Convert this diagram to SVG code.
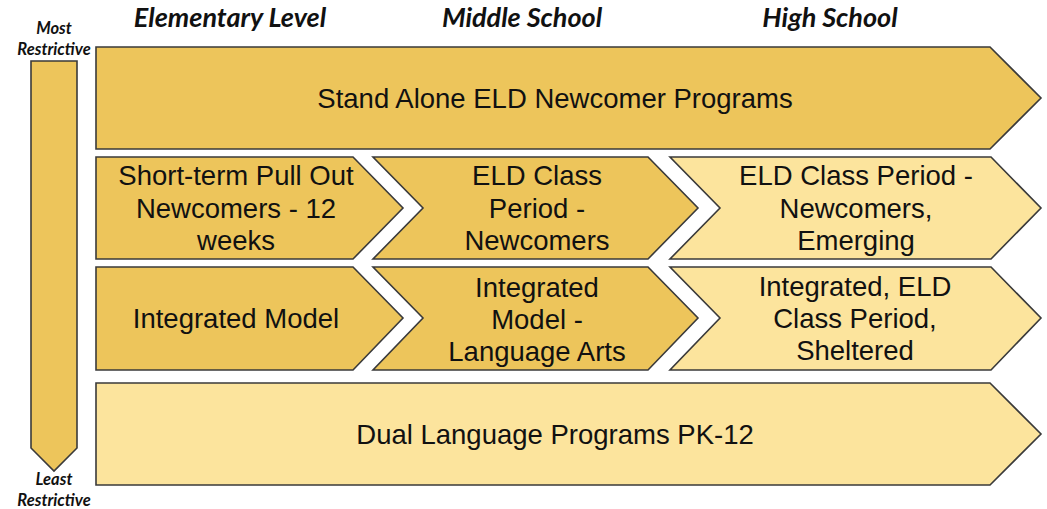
<svg xmlns="http://www.w3.org/2000/svg" width="1047" height="509" viewBox="0 0 1047 509">
<style>
.dark{fill:#EDC55B;stroke:#3a3a3a;stroke-width:1.6;stroke-linejoin:miter}
.light{fill:#FCE49D;stroke:#3a3a3a;stroke-width:1.6;stroke-linejoin:miter}
.lbl{font-family:"Liberation Sans",Arial,sans-serif;font-size:27.5px;fill:#111;text-anchor:middle}
.hdr{font-family:Lato,"Open Sans",sans-serif;font-weight:bold;font-style:italic;font-size:27px;fill:#111;text-anchor:middle}
.side{font-family:Lato,"Open Sans",sans-serif;font-weight:bold;font-style:italic;font-size:16.5px;fill:#111;text-anchor:middle}
</style>
<rect width="1047" height="509" fill="#ffffff"/>
<g id="headers">
<text class="hdr" x="230" y="27">Elementary Level</text>
<text class="hdr" x="522" y="27">Middle School</text>
<text class="hdr" x="830" y="27">High School</text>
</g>
<g id="restrictiveness">
<polygon class="dark" points="31,61 77,61 77,448 54,471 31,448"/>
<text class="side" x="54" y="34">Most</text>
<text class="side" x="54" y="55">Restrictive</text>
<text class="side" x="54" y="485">Least</text>
<text class="side" x="54" y="506">Restrictive</text>
</g>
<g id="standalone">
<polygon class="dark" points="96,47 990,47 1041,98 990,149 96,149"/>
<text class="lbl" x="555" y="108">Stand Alone ELD Newcomer Programs</text>
</g>
<g id="shortterm">
<polygon class="dark" points="96,157 353,157 403,208 353,259 96,259"/>
<text class="lbl" x="236" y="185">Short-term Pull Out</text>
<text class="lbl" x="236" y="218">Newcomers - 12</text>
<text class="lbl" x="236" y="250">weeks</text>
</g>
<g id="eldms">
<polygon class="dark" points="373,157 648,157 698,208 648,259 373,259 423,208"/>
<text class="lbl" x="537" y="185">ELD Class</text>
<text class="lbl" x="537" y="218">Period -</text>
<text class="lbl" x="537" y="250">Newcomers</text>
</g>
<g id="eldhs">
<polygon class="light" points="670,157 991,157 1041,208 991,259 670,259 720,208"/>
<text class="lbl" x="856" y="185">ELD Class Period -</text>
<text class="lbl" x="856" y="218">Newcomers,</text>
<text class="lbl" x="856" y="250">Emerging</text>
</g>
<g id="integrated">
<polygon class="dark" points="96,267 353,267 403,318 353,370 96,370"/>
<text class="lbl" x="236" y="328">Integrated Model</text>
</g>
<g id="integratedms">
<polygon class="dark" points="373,267 648,267 698,318 648,370 373,370 423,318"/>
<text class="lbl" x="537" y="297">Integrated</text>
<text class="lbl" x="537" y="329">Model -</text>
<text class="lbl" x="537" y="361">Language Arts</text>
</g>
<g id="integratedhs">
<polygon class="light" points="670,267 991,267 1041,318 991,370 670,370 720,318"/>
<text class="lbl" x="855" y="296">Integrated, ELD</text>
<text class="lbl" x="855" y="328">Class Period,</text>
<text class="lbl" x="855" y="360">Sheltered</text>
</g>
<g id="dual">
<polygon class="light" points="96,383 990,383 1041,434 990,485 96,485"/>
<text class="lbl" x="555" y="444">Dual Language Programs PK-12</text>
</g>
<g id="connectors"></g>
</svg>
